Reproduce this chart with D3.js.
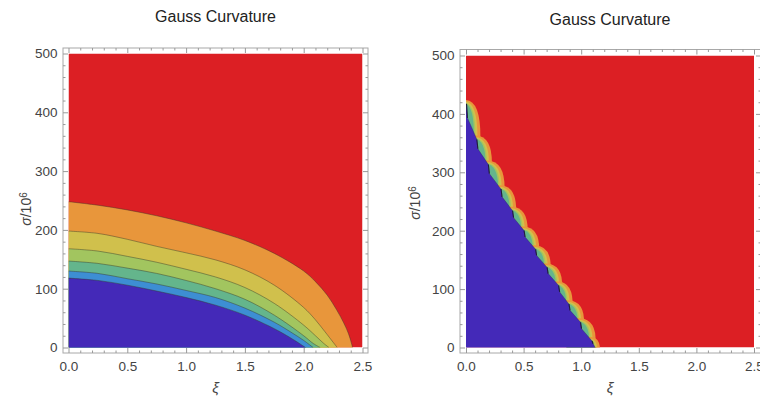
<!DOCTYPE html>
<html><head><meta charset="utf-8">
<script src="https://cdn.jsdelivr.net/npm/d3@7"></script>
<style>body{margin:0;background:#fff}svg{display:block}</style>
</head><body><svg id="c" width="760" height="396"></svg>
<script>
// ---- data ----
const titleText = "Gauss Curvature";
const xiTickValues = [0, 0.5, 1, 1.5, 2, 2.5];
const xiTickLabels = ["0.0", "0.5", "1.0", "1.5", "2.0", "2.5"];
const sigmaTickValues = [0, 100, 200, 300, 400, 500];
const sigmaTickLabels = ["0", "100", "200", "300", "400", "500"];

// left panel: contour boundaries [xi, sigma/1e6], from top band to bottom band
const leftLevel1 = [[0,248],[0.25,242],[0.5,234],[0.75,224],[1.0,212],[1.25,198],[1.5,182],[1.75,160],[2.0,130],[2.1,112],[2.2,89],[2.28,64],[2.34,42],[2.38,24],[2.405,8],[2.415,0]];
const leftLevel2 = [[0,198],[0.25,194],[0.5,184],[0.75,172],[1.0,161],[1.25,149],[1.5,132],[1.75,106],[2.0,68],[2.1,47],[2.18,27],[2.25,9],[2.285,0]];
const leftLevel3 = [[0,168],[0.25,164],[0.5,155],[0.75,145],[1.0,133],[1.25,120],[1.5,102],[1.75,75],[2.0,38],[2.1,20],[2.17,7],[2.215,0]];
const leftLevel4 = [[0,147],[0.25,143],[0.5,135],[0.75,126],[1.0,114],[1.25,100],[1.5,82],[1.75,55],[2.0,20],[2.08,7],[2.14,0]];
const leftLevel5 = [[0,130],[0.25,126],[0.5,117],[0.75,108],[1.0,97],[1.25,85],[1.5,67],[1.75,43],[1.9,25],[2.0,12],[2.08,0]];
const leftLevel6 = [[0,118],[0.25,114],[0.5,106],[0.75,96],[1.0,85],[1.25,72],[1.5,55],[1.75,32],[1.9,15],[2.015,0]];
const leftBandColors = ["#dc1f24", "#e8963b", "#d0c04c", "#a2c55f", "#64b58c", "#3d8ed3", "#4429b8"];

// right panel: tops of the scalloped transition band
const rightStepXi = [0, 0.09, 0.19, 0.30, 0.40, 0.50, 0.60, 0.70, 0.80, 0.89, 0.99, 1.09, 1.13];
const rightStepSigma = [424, 363, 320, 278, 241, 207, 175, 144, 113, 81, 50, 18, 0];
const rightBandColors = ["#e8963b", "#d0c04c", "#a2c55f", "#64b58c"];
const rightRed = "#dc1f24", rightBlue = "#4429b8";

// ---- drawing ----
const svg = d3.select("#c");
const defs = svg.append("defs");
const font = "'Liberation Sans', Arial, sans-serif";

function frameAndAxes(g, x, y, fr) {
  g.append("rect").attr("x", fr.l).attr("y", fr.t).attr("width", fr.r - fr.l).attr("height", fr.b - fr.t)
    .attr("fill", "none").attr("stroke", "#a8a8a8").attr("stroke-width", 1);
  const minorX = d3.range(0, 2.5001, 0.1).filter(v => Math.abs(v*2 - Math.round(v*2)) > 1e-6);
  const minorY = d3.range(0, 500.1, 20).filter(v => v % 100 !== 0);
  const styleAxis = a => { a.select(".domain").remove(); a.selectAll("line").attr("stroke", "#999"); a.selectAll("text").attr("fill", "#444").style("font-family", font).style("font-size", "13.5px"); };
  g.append("g").attr("transform", `translate(0,${fr.b})`)
    .call(d3.axisBottom(x).tickValues(xiTickValues).tickFormat((d,i) => xiTickLabels[i]).tickSizeInner(-5).tickSizeOuter(0).tickPadding(8)).call(styleAxis);
  g.append("g").attr("transform", `translate(0,${fr.b})`)
    .call(d3.axisBottom(x).tickValues(minorX).tickFormat("").tickSizeInner(-2.5).tickSizeOuter(0)).call(styleAxis);
  g.append("g").attr("transform", `translate(0,${fr.t})`)
    .call(d3.axisTop(x).tickValues(xiTickValues).tickFormat("").tickSizeInner(-5).tickSizeOuter(0)).call(styleAxis);
  g.append("g").attr("transform", `translate(0,${fr.t})`)
    .call(d3.axisTop(x).tickValues(minorX).tickFormat("").tickSizeInner(-2.5).tickSizeOuter(0)).call(styleAxis);
  g.append("g").attr("transform", `translate(${fr.l},0)`)
    .call(d3.axisLeft(y).tickValues(sigmaTickValues).tickFormat((d,i) => sigmaTickLabels[i]).tickSizeInner(-5).tickSizeOuter(0).tickPadding(5.5)).call(styleAxis);
  g.append("g").attr("transform", `translate(${fr.l},0)`)
    .call(d3.axisLeft(y).tickValues(minorY).tickFormat("").tickSizeInner(-2.5).tickSizeOuter(0)).call(styleAxis);
  g.append("g").attr("transform", `translate(${fr.r},0)`)
    .call(d3.axisRight(y).tickValues(sigmaTickValues).tickFormat("").tickSizeInner(-5).tickSizeOuter(0)).call(styleAxis);
  g.append("g").attr("transform", `translate(${fr.r},0)`)
    .call(d3.axisRight(y).tickValues(minorY).tickFormat("").tickSizeInner(-2.5).tickSizeOuter(0)).call(styleAxis);
}

function labels(g, cx, titleY, ylabX, ylabY) {
  g.append("text").attr("x", cx).attr("y", titleY).attr("text-anchor", "middle")
    .style("font-family", font).style("font-size", "16px").attr("fill", "#222").text(titleText);
  g.append("text").attr("x", cx).attr("y", 393).attr("text-anchor", "middle")
    .style("font-family", font).style("font-size", "15px").style("font-style", "italic").attr("fill", "#444").text("ξ");
  const t = g.append("text").attr("transform", `translate(${ylabX},${ylabY}) rotate(-90)`).attr("text-anchor", "middle")
    .style("font-family", font).style("font-size", "14px").attr("fill", "#444");
  t.append("tspan").style("font-style", "italic").text("σ");
  t.append("tspan").text("/10");
  t.append("tspan").attr("dy", "-0.45em").style("font-size", "10px").text("6");
}

// ===== Left panel =====
{
  const x = d3.scaleLinear().domain([0, 2.5]).range([68.5, 362.5]);
  const y = d3.scaleLinear().domain([0, 500]).range([347.5, 53.5]);
  defs.append("clipPath").attr("id", "clipL").append("rect")
    .attr("x", x(0)).attr("y", y(500)).attr("width", x(2.5) - x(0)).attr("height", y(0) - y(500));
  const g = svg.append("g");
  const pg = g.append("g").attr("clip-path", "url(#clipL)");
  pg.append("rect").attr("x", x(0)).attr("y", y(500)).attr("width", x(2.5) - x(0)).attr("height", y(0) - y(500)).attr("fill", leftBandColors[0]);
  const levels = [leftLevel1, leftLevel2, leftLevel3, leftLevel4, leftLevel5, leftLevel6];
  const curve = d3.curveCatmullRom.alpha(0.5);
  const area = d3.area().x(d => x(d[0])).y0(y(0) + 3).y1(d => y(d[1])).curve(curve);
  const line = d3.line().x(d => x(d[0])).y(d => y(d[1])).curve(curve);
  levels.forEach((lv, i) => {
    pg.append("path").attr("d", area(lv)).attr("fill", leftBandColors[i + 1]);
  });
  levels.forEach(lv => {
    pg.append("path").attr("d", line(lv)).attr("fill", "none").attr("stroke", "#3a3a2a").attr("stroke-opacity", 0.5).attr("stroke-width", 0.9);
  });
  frameAndAxes(g, x, y, {l: 63, r: 368, t: 48, b: 353});
  labels(g, 215.5, 21.5, 31, 209);
}

// ===== Right panel =====
{
  const x = d3.scaleLinear().domain([0, 2.5]).range([466, 754]);
  const y = d3.scaleLinear().domain([0, 500]).range([347.5, 55.5]);
  defs.append("clipPath").attr("id", "clipR").append("rect")
    .attr("x", x(0)).attr("y", y(500)).attr("width", x(2.5) - x(0)).attr("height", y(0) - y(500));
  const g = svg.append("g");
  const pg = g.append("g").attr("clip-path", "url(#clipR)");
  pg.append("rect").attr("x", x(0)).attr("y", y(500)).attr("width", x(2.5) - x(0)).attr("height", y(0) - y(500)).attr("fill", rightRed);
  const tops = rightStepXi.map((v, i) => [x(v), y(rightStepSigma[i])]);
  const shifts = [0, 3, 5, 6.5];
  for (let i = 0; i < tops.length - 1; i++) {
    const [x0, y0] = tops[i], [x1, y1] = tops[i + 1];
    rightBandColors.forEach((col, k) => {
      const d = shifts[k];
      const p = d3.path();
      p.moveTo(x0 - d * 0.3, y0 + d * 0.5);
      p.quadraticCurveTo(x1 + 5 - d, y0 + 1 + d * 0.5, x1 + 4 - d, y1 + 6);
      p.lineTo(x0 - 25, y1 + 6);
      p.lineTo(x0 - 25, y0 + d * 0.5);
      p.closePath();
      pg.append("path").attr("d", p.toString()).attr("fill", col);
    });
  }
  // blue region with zig-zag edge (short steep step under each scallop top, then a diagonal)
  const bp = d3.path(), vs = d3.path();
  bp.moveTo(x(0) - 20, y(0) + 20);
  bp.lineTo(x(0) - 20, tops[0][1] + 12);
  for (let i = 0; i < tops.length - 1; i++) {
    const [x0, y0] = tops[i], [x1, y1] = tops[i + 1];
    const ax = x0 + 0.5, ay = y0 + 4, bx = x0 + 1.5, by = y0 + 0.45 * (y1 - y0) + 2;
    bp.lineTo(ax, ay); bp.lineTo(bx, by);
    vs.moveTo(ax, ay); vs.lineTo(bx, by);
  }
  const last = tops[tops.length - 1];
  bp.lineTo(last[0] - 1, last[1]);
  bp.lineTo(last[0] - 1, y(0) + 20);
  bp.closePath();
  pg.append("path").attr("d", bp.toString()).attr("fill", rightBlue)
    .attr("stroke", "#2a1e5a").attr("stroke-width", 0.6).attr("stroke-opacity", 0.6);
  pg.append("path").attr("d", vs.toString()).attr("fill", "none").attr("stroke", "#1a1228").attr("stroke-opacity", 0.8).attr("stroke-width", 1.1);
  frameAndAxes(g, x, y, {l: 460, r: 761, t: 49.5, b: 353});
  labels(g, 610, 25, 420, 203);
}
</script></body></html>
